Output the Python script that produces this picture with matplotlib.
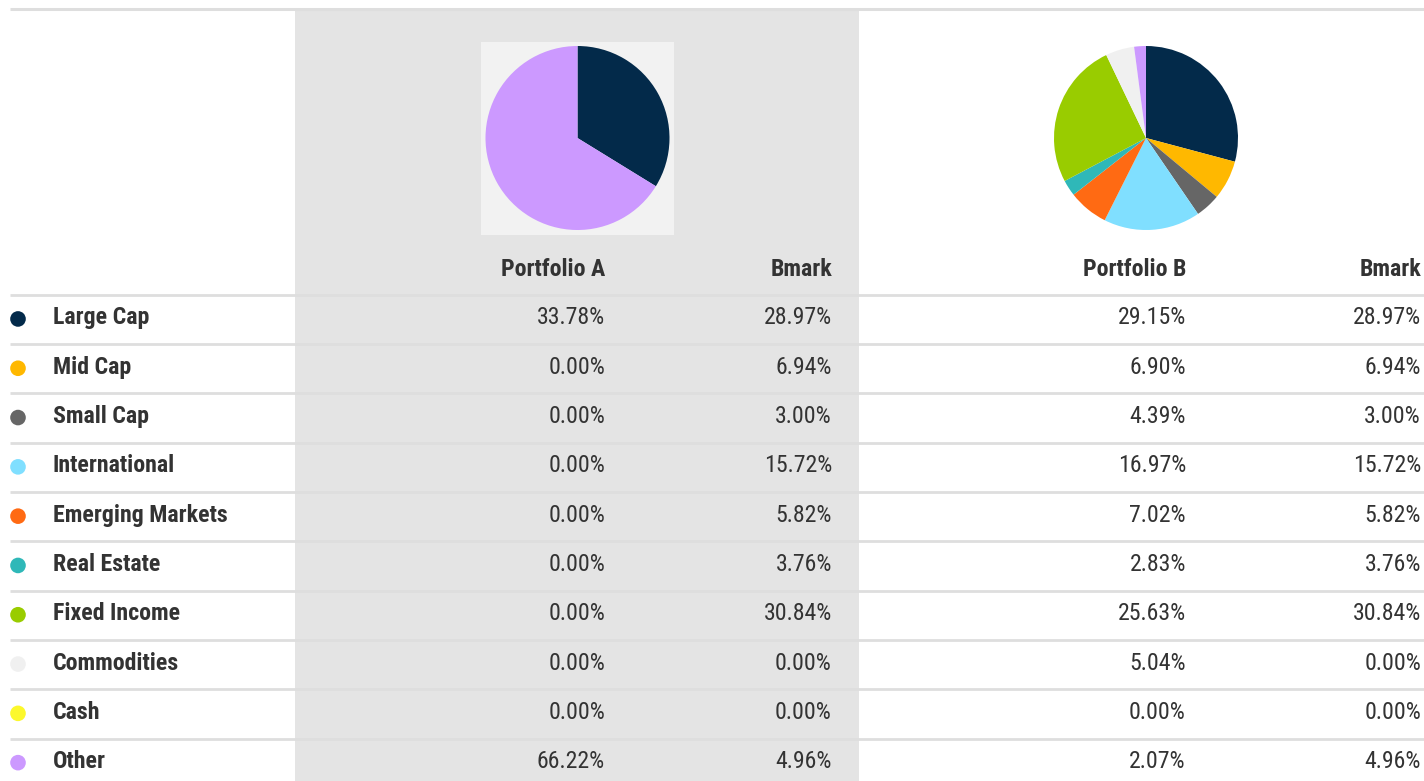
import matplotlib
matplotlib.use("Agg")
import matplotlib.pyplot as plt
from matplotlib.patches import Rectangle, Circle

plt.rcParams['font.family'] = ['Roboto Condensed', 'Liberation Sans Narrow', 'Roboto', 'DejaVu Sans']
plt.rcParams['font.stretch'] = 'condensed'

categories = ["Large Cap", "Mid Cap", "Small Cap", "International", "Emerging Markets",
              "Real Estate", "Fixed Income", "Commodities", "Cash", "Other"]
colors = ["#032a4a", "#ffb800", "#666666", "#80dfff", "#ff6a13",
          "#2fb8b8", "#99cc00", "#f0f0f0", "#fcf82c", "#cc99ff"]
portfolio_a = [33.78, 0.00, 0.00, 0.00, 0.00, 0.00, 0.00, 0.00, 0.00, 66.22]
bmark_a = [28.97, 6.94, 3.00, 15.72, 5.82, 3.76, 30.84, 0.00, 0.00, 4.96]
portfolio_b = [29.15, 6.90, 4.39, 16.97, 7.02, 2.83, 25.63, 5.04, 0.00, 2.07]
bmark_b = [28.97, 6.94, 3.00, 15.72, 5.82, 3.76, 30.84, 0.00, 0.00, 4.96]
headers = ["Portfolio A", "Bmark", "Portfolio B", "Bmark"]

W, H = 1424, 781
fig = plt.figure(figsize=(W / 100, H / 100), dpi=100)
ax = fig.add_axes([0, 0, 1, 1])
ax.set_xlim(0, W)
ax.set_ylim(H, 0)
ax.axis('off')

TXT = "#333333"
LINE = "#dedede"
FS = 17.2

# gray column
ax.add_patch(Rectangle((295, 10), 564, H - 10, facecolor="#e4e4e4", edgecolor="none", zorder=0))
# pie A background box
ax.add_patch(Rectangle((481, 42), 193, 193, facecolor="#f2f2f2", edgecolor="none", zorder=1))
# top line
ax.plot([10, W], [9.3, 9.3], color=LINE, lw=2.2, solid_capstyle='butt', zorder=2)

# headers
col_x = [605, 832, 1186, 1421]
for hx, h in zip(col_x, headers):
    ax.text(hx, 269, h, ha='right', va='center', fontsize=FS, fontweight='bold', color=TXT)

row0 = 294.8
pitch = 49.3
for i, cat in enumerate(categories):
    ly = row0 + i * pitch
    ax.plot([10, W], [ly, ly], color=LINE, lw=2.0, solid_capstyle='butt', zorder=2)
    cy = ly + pitch / 2 - 1.5
    ax.add_patch(Circle((18, cy + 1), 7.8, facecolor=colors[i], edgecolor='none', zorder=3))
    ax.text(53, cy, cat, ha='left', va='center', fontsize=FS, fontweight='bold', color=TXT)
    for cx, vals in zip(col_x, [portfolio_a, bmark_a, portfolio_b, bmark_b]):
        ax.text(cx, cy, f"{vals[i]:.2f}%", ha='right', va='center', fontsize=FS, color=TXT)


def pie_axes(cx, cy, r):
    left = (cx - r) / W
    bottom = (H - (cy + r)) / H
    pa = fig.add_axes([left, bottom, 2 * r / W, 2 * r / H])
    pa.set_xlim(-1, 1)
    pa.set_ylim(-1, 1)
    pa.axis('off')
    pa.patch.set_alpha(0)
    return pa


pa = pie_axes(577.5, 138, 92)
pa.pie(portfolio_a, colors=colors, startangle=90, counterclock=False, radius=1,
       wedgeprops=dict(linewidth=0))
pa.set_xlim(-1, 1); pa.set_ylim(-1, 1)

pb = pie_axes(1146, 138, 92)
pb.pie(portfolio_b, colors=colors, startangle=90, counterclock=False, radius=1,
       wedgeprops=dict(linewidth=0))
pb.set_xlim(-1, 1); pb.set_ylim(-1, 1)

fig.savefig("out.png", dpi=100)
